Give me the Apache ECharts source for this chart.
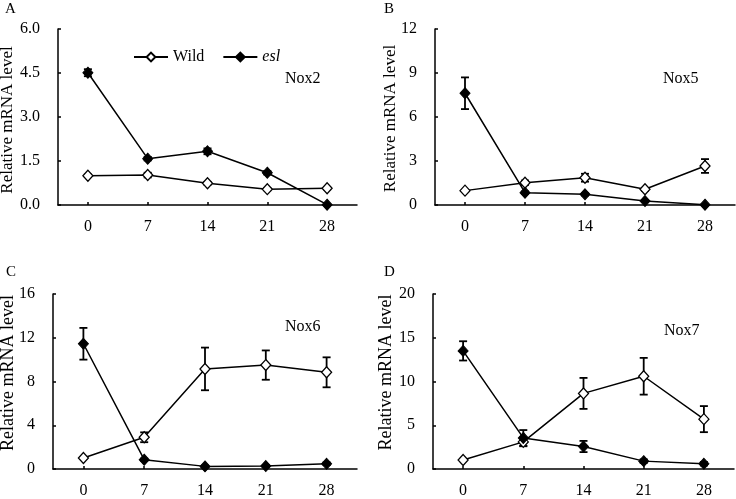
<!DOCTYPE html>
<html>
<head>
<meta charset="utf-8">
<script src="https://cdn.jsdelivr.net/npm/echarts@6/dist/echarts.min.js"></script>
<style>html,body{margin:0;padding:0;background:#fff;}#c{width:736px;height:499px;}</style>
</head>
<body>
<div id="c"></div>
<script>
const days = ['0', '7', '14', '21', '28'];

const nox2Wild    = [1.00, 1.02, 0.74, 0.54, 0.57];
const nox2WildErr = [0.04, 0.08, 0.05, 0.04, 0.04];
const nox2Esl     = [4.51, 1.58, 1.83, 1.10, 0.01];
const nox2EslErr  = [0.12, 0.06, 0.10, 0.06, 0.01];

const nox5Wild    = [0.98, 1.52, 1.86, 1.07, 2.66];
const nox5WildErr = [0.05, 0.15, 0.27, 0.10, 0.47];
const nox5Esl     = [7.62, 0.84, 0.73, 0.27, 0.02];
const nox5EslErr  = [1.08, 0.08, 0.08, 0.05, 0.01];

const nox6Wild    = [1.00, 2.90, 9.15, 9.50, 8.84];
const nox6WildErr = [0.08, 0.45, 1.95, 1.34, 1.37];
const nox6Esl     = [11.45, 0.85, 0.24, 0.27, 0.48];
const nox6EslErr  = [1.45, 0.10, 0.08, 0.08, 0.12];

const nox7Wild    = [1.02, 3.10, 8.64, 10.60, 5.70];
const nox7WildErr = [0.10, 0.50, 1.77, 2.10, 1.49];
const nox7Esl     = [13.50, 3.55, 2.57, 0.90, 0.60];
const nox7EslErr  = [1.10, 0.90, 0.64, 0.20, 0.20];

const yMax = [6, 12, 16, 20];
const yInterval = [1.5, 3, 4, 5];
const geneNames = ['Nox2', 'Nox5', 'Nox6', 'Nox7'];
const panelLetters = ['A', 'B', 'C', 'D'];
const yTitle = 'Relative mRNA level';

const FONT = 'Liberation Serif';
const chart = echarts.init(document.getElementById('c'));

const grids = [
  {left: 58, right: 379, top: 29, bottom: 294},
  {left: 435, right: 1, top: 29, bottom: 294},
  {left: 53, right: 379, top: 294, bottom: 28},
  {left: 433, right: 2, top: 294, bottom: 29}
];

const panels = [
  [nox2Wild, nox2WildErr, nox2Esl, nox2EslErr],
  [nox5Wild, nox5WildErr, nox5Esl, nox5EslErr],
  [nox6Wild, nox6WildErr, nox6Esl, nox6EslErr],
  [nox7Wild, nox7WildErr, nox7Esl, nox7EslErr]
];

function errData(vals, errs) {
  return vals.map((v, i) => [i, v, errs[i]]);
}
function errRender(params, api) {
  const i = api.value(0), v = api.value(1), e = api.value(2);
  const hi = api.coord([i, v + e]);
  const lo = api.coord([i, Math.max(0, v - e)]);
  const cw = 4;
  const st = {stroke: '#000', lineWidth: 1.8};
  return {
    type: 'group',
    children: [
      {type: 'line', shape: {x1: hi[0], y1: hi[1], x2: lo[0], y2: lo[1]}, style: st},
      {type: 'line', shape: {x1: hi[0] - cw, y1: hi[1], x2: hi[0] + cw, y2: hi[1]}, style: st},
      {type: 'line', shape: {x1: lo[0] - cw, y1: lo[1], x2: lo[0] + cw, y2: lo[1]}, style: st}
    ]
  };
}

const xAxes = [], yAxes = [], series = [];
panels.forEach((p, k) => {
  xAxes.push({
    type: 'category', gridIndex: k, data: days, boundaryGap: true,
    axisLine: {lineStyle: {color: '#000', width: 1.5}},
    axisTick: {show: true, inside: true, alignWithLabel: true, length: 3, lineStyle: {color: '#000', width: 1.5}},
    axisLabel: {color: '#000', fontFamily: FONT, fontSize: 16, margin: 14},
    splitLine: {show: false}
  });
  yAxes.push({
    type: 'value', gridIndex: k, min: 0, max: yMax[k], interval: yInterval[k],
    axisLine: {show: true, lineStyle: {color: '#000', width: 1.5}},
    axisTick: {show: true, inside: true, length: 3, lineStyle: {color: '#000', width: 1.5}},
    axisLabel: {color: '#000', fontFamily: FONT, fontSize: 16, margin: 18,
      formatter: k === 0 ? (v => v.toFixed(1)) : (v => String(v))},
    splitLine: {show: false}
  });
  series.push({
    type: 'custom', xAxisIndex: k, yAxisIndex: k, z: 1, silent: true,
    renderItem: errRender, data: errData(p[0], p[1]), encode: {x: 0, y: 1}
  });
  series.push({
    type: 'custom', xAxisIndex: k, yAxisIndex: k, z: 1, silent: true,
    renderItem: errRender, data: errData(p[2], p[3]), encode: {x: 0, y: 1}
  });
  series.push({
    name: 'Wild', type: 'line', xAxisIndex: k, yAxisIndex: k, z: 3,
    data: p[0], symbol: 'diamond', symbolSize: [10, 11], showAllSymbol: true,
    lineStyle: {color: '#000', width: 1.5},
    itemStyle: {color: '#fff', borderColor: '#000', borderWidth: 1.3},
    animation: false
  });
  series.push({
    name: 'esl', type: 'line', xAxisIndex: k, yAxisIndex: k, z: 3,
    data: p[2], symbol: 'diamond', symbolSize: [10, 11], showAllSymbol: true,
    lineStyle: {color: '#000', width: 1.5},
    itemStyle: {color: '#000', borderColor: '#000', borderWidth: 1},
    animation: false
  });
});

const textPos = [[285, 80], [663, 80], [285, 328], [664, 332]];
const letterPos = [[10, 10], [389, 10], [11, 273], [389, 273]];
const titlePos = [[8, 120], [391, 118.5], [8, 373], [386, 372.5]];
const titleSize = [17, 17, 18, 18];
const graphics = [];
geneNames.forEach((g, k) => {
  graphics.push({type: 'text', left: textPos[k][0], top: textPos[k][1] - 9,
    style: {text: g, fill: '#000', font: '16px "' + FONT + '"'}});
  graphics.push({type: 'text', left: letterPos[k][0] - 5, top: letterPos[k][1] - 8,
    style: {text: panelLetters[k], fill: '#000', font: '15px "' + FONT + '"'}});
  graphics.push({type: 'text', x: titlePos[k][0], y: titlePos[k][1], rotation: Math.PI / 2,
    style: {text: yTitle, fill: '#000', font: titleSize[k] + 'px "' + FONT + '"',
      align: 'center', verticalAlign: 'middle'}});
});

chart.setOption({
  animation: false,
  backgroundColor: '#fff',
  grid: grids,
  xAxis: xAxes,
  yAxis: yAxes,
  series: series,
  graphic: graphics,
  legend: {
    data: ['Wild', 'esl'], left: 128, top: 44,
    itemWidth: 34, itemHeight: 11, itemGap: 18,
    textStyle: {color: '#000', fontFamily: FONT, fontSize: 16,
      rich: {it: {fontStyle: 'italic', fontFamily: FONT, fontSize: 16, color: '#000'}}},
    formatter: n => n === 'esl' ? '{it|esl}' : n
  }
});
</script>
</body>
</html>
